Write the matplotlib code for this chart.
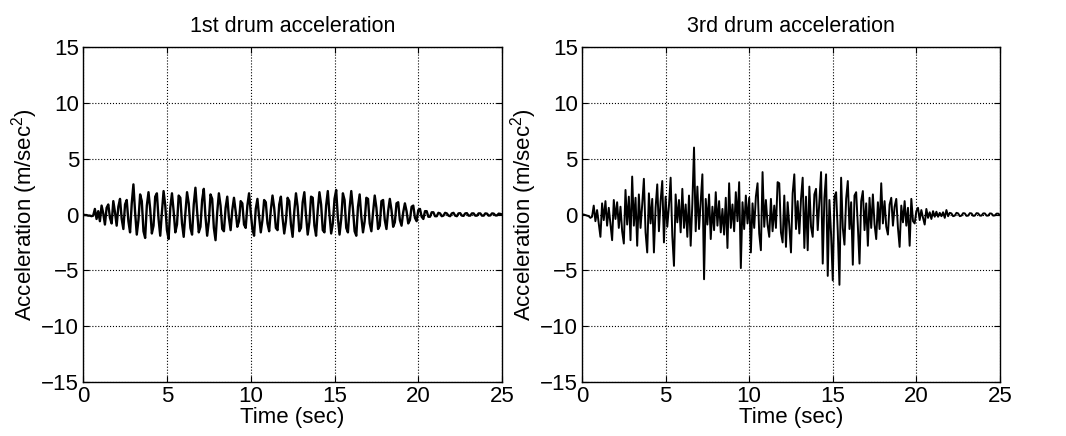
import numpy as np
import matplotlib
matplotlib.use("Agg")
import matplotlib.pyplot as plt

plt.rcParams['font.family'] = ['Liberation Sans', 'DejaVu Sans']
plt.rcParams['mathtext.default'] = 'regular'

# time grid (sec), one sample every 0.1 s
time = np.linspace(0, 25, 251)

# 1st drum acceleration (m/sec^2)
drum1 = [
    0.0, -0.05, -0.05, -0.1, -0.1, -0.15, -0.1, 0.5, -0.4, 0.3,
    -0.6, 0.8, 0.1, -0.9, 0.6, 0.9, -0.3, -0.8, 1.2, 0.2,
    -1.0, 0.7, 1.4, -0.4, -1.3, 0.9, 1.3, -0.6, -1.6, 1.0,
    2.7, 0.2, -1.8, -0.5, 1.8, 1.2, -1.5, -2.1, 0.8, 2.0,
    0.5, -1.7, -1.0, 1.6, 1.9, -0.4, -1.9, 0.2, 2.1, 0.8,
    -1.4, -2.2, 0.6, 1.9, 0.3, -1.6, -0.9, 1.7, 1.5, -0.8,
    -2.0, 0.1, 2.0, 1.0, -1.2, -1.8, 0.9, 2.4, 0.3, -1.6,
    -1.1, 1.3, 2.3, -0.2, -1.9, -0.6, 1.8, 1.4, -1.2, -2.3,
    0.2, 1.9, 0.8, -1.3, -1.5, 0.6, 1.6, -0.3, -1.4, 0.4,
    1.5, 0.3, -1.1, -0.6, 1.2, 1.0, -0.9, -1.2, 0.8, 1.9,
    0.2, -1.3, -1.9, 0.5, 1.4, -0.2, -1.6, -0.5, 1.3, 1.1,
    -0.8, -1.5, 0.4, 1.7, 0.6, -1.2, -1.4, 0.9, 1.6, -0.3,
    -1.7, -0.6, 1.5, 1.2, -0.9, -2.0, 0.3, 1.9, 0.7, -1.5,
    -1.2, 1.1, 2.0, -0.1, -1.8, -0.7, 1.6, 1.5, -1.0, -1.9,
    0.4, 2.0, 0.9, -1.4, -1.6, 0.8, 2.1, 0.0, -1.7, -0.8,
    1.4, 2.2, -0.3, -1.8, -0.4, 1.9, 1.3, -1.2, -1.6, 0.6,
    2.1, 0.5, -1.5, -1.9, 0.7, 1.8, -0.2, -1.6, -0.6, 1.5,
    1.4, -0.8, -1.5, 0.2, 1.7, 0.6, -1.3, -1.0, 1.2, 1.3,
    -0.5, -1.3, 0.3, 1.4, 0.4, -1.1, -0.7, 1.0, 1.1, -0.5,
    -1.0, 0.2, 1.0, 0.3, -0.8, -0.5, 0.7, 0.8, -0.3, -0.6,
    0.4, 0.5, -0.2, -0.4, 0.3, 0.3, -0.2, -0.2, 0.2, 0.2,
    -0.15, -0.15, 0.15, 0.1, -0.15, -0.1, 0.15, 0.1, -0.1, -0.15,
    0.1, 0.15, -0.1, -0.15, 0.1, 0.12, -0.1, -0.12, 0.1, 0.12,
    -0.1, -0.1, 0.1, 0.1, -0.1, -0.1, 0.1, 0.1, -0.1, -0.1,
    0.1, 0.08, -0.1, -0.08, 0.1, 0.08, -0.08, -0.08, 0.08, 0.05,
    0.0,
]

# 3rd drum acceleration (m/sec^2)
drum3 = [
    0.0, 0.0, -0.05, -0.1, -0.15, -0.3, -0.2, 0.8, -0.6, 0.4,
    -0.8, -2.0, 1.0, -0.5, 1.2, -1.0, 0.6, -0.9, -2.3, 1.3,
    -0.4, 1.1, -1.2, 0.7, -1.5, -2.6, 2.2, -0.9, 1.6, -2.3,
    3.4, -1.0, 1.5, -2.8, 1.8, -1.2, 0.9, 3.2, -1.6, -3.4,
    1.9, -0.8, 1.4, -3.4, 0.6, 2.7, -1.5, 1.2, 3.0, -2.5,
    1.6, -1.1, 0.8, 3.3, -1.9, -4.6, 1.8, -0.7, 1.3, -1.6,
    2.3, -1.2, 0.9, -2.0, 1.7, -2.8, 1.0, 6.0, -1.5, 2.5,
    -1.3, 1.1, 3.6, -5.8, 1.4, -0.9, 1.8, -2.2, 0.7, -1.4,
    2.0, -1.0, 1.2, -1.6, 0.5, -1.8, 1.5, -3.0, 2.8, -1.2,
    0.9, -1.5, 2.0, -0.6, 2.9, -4.8, 1.1, -1.3, 1.7, -0.8,
    1.5, -3.4, 1.0, -1.2, 1.6, 2.8, -1.7, -3.2, 3.8, -1.1,
    1.3, -0.9, -2.0, 1.4, -1.5, 0.8, -1.2, 2.9, 2.8, -1.6,
    -2.5, 1.7, -2.9, 1.1, -1.0, -3.4, 1.9, 3.6, -1.3, 1.2,
    -1.7, 1.4, 3.3, -3.0, 1.6, -3.2, 2.5, -1.1, -2.0, 1.8,
    2.3, -1.4, 1.2, 3.8, -4.4, 1.5, 3.6, -5.5, 1.3, -1.8,
    -5.9, 1.6, 2.0, -1.5, -6.3, 3.3, -1.2, -2.7, 1.4, 3.0,
    -1.3, 1.1, -4.5, 1.7, 2.0, -1.0, -4.4, 1.2, 2.1, -1.4,
    1.0, -2.8, 1.5, -1.2, 1.8, -0.9, -2.2, 1.1, -1.3, 2.8,
    -0.8, 1.2, -1.1, -1.8, 0.9, 1.5, -1.0, 0.7, 1.4, -1.2,
    -2.9, 0.8, -0.7, 1.2, -1.0, 0.6, -2.8, 1.4, -0.6, -0.8,
    0.3, 0.6, -0.5, 0.4, -0.3, -0.9, 0.5, -0.3, 0.2, -0.4,
    0.3, -0.2, 0.25, -0.2, 0.15, -0.15, 0.2, -0.3, 0.4, -0.15,
    0.15, 0.1, -0.15, -0.1, 0.15, 0.1, -0.15, -0.1, 0.12, 0.1,
    -0.12, -0.1, 0.12, 0.1, -0.12, -0.1, 0.12, 0.1, -0.1, -0.1,
    0.1, 0.1, -0.1, -0.1, 0.1, 0.08, -0.1, -0.08, 0.08, 0.08,
    -0.05,
]

titles = ['1st drum acceleration', '3rd drum acceleration']
xticks = [0, 5, 10, 15, 20, 25]
yticks = [-15, -10, -5, 0, 5, 10, 15]

fig = plt.figure(figsize=(10.66, 4.36), dpi=100)
ax1 = fig.add_axes([0.078, 0.124, 0.393, 0.768])
ax2 = fig.add_axes([0.546, 0.124, 0.392, 0.768])

for ax, series, title, lw in [(ax1, drum1, titles[0], 1.7), (ax2, drum3, titles[1], 1.4)]:
    ax.plot(time, series, color='black', linewidth=lw)
    ax.set_xlim(0, 25)
    ax.set_ylim(-15, 15)
    ax.set_xticks(xticks)
    ax.set_yticks(yticks)
    ax.set_yticklabels([str(v).replace('-', '\u2212') for v in yticks])
    ax.grid(True, color='black', linestyle=':', linewidth=0.8)
    ax.tick_params(direction='in', top=True, right=True, labelsize=16, pad=3, length=4)
    for s in ax.spines.values():
        s.set_linewidth(1.0)
    ax.set_title(title, fontsize=15.5, pad=11)
    ax.set_xlabel('Time (sec)', fontsize=16, labelpad=0)
    ax.set_ylabel('Acceleration (m/sec$^2$)', fontsize=16, labelpad=1)

fig.savefig('out.png', dpi=100)
